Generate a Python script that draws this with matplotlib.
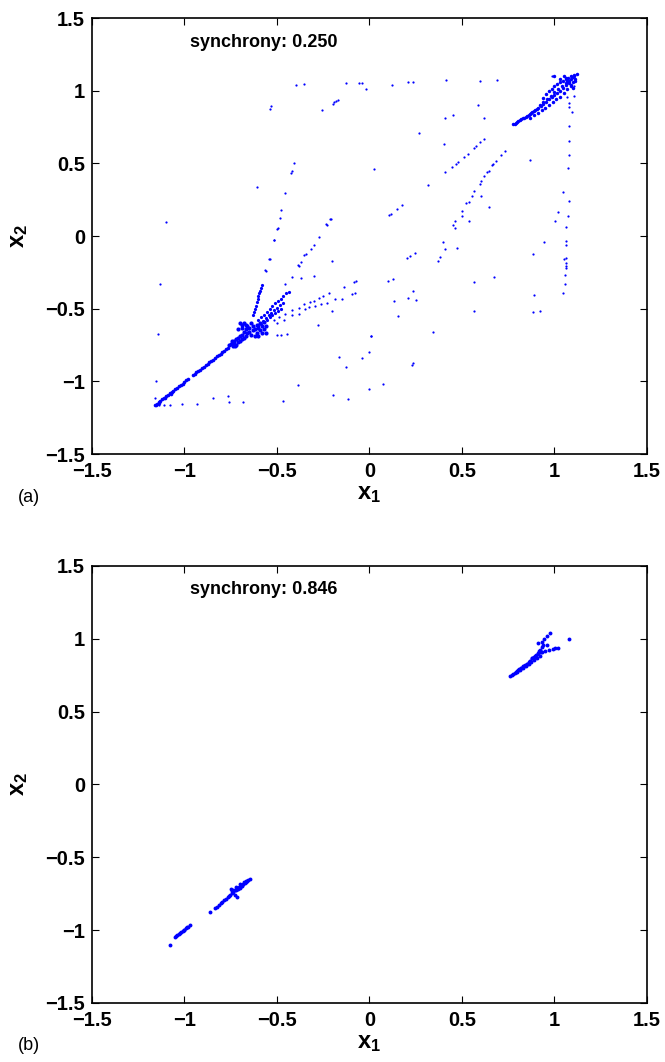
import matplotlib
matplotlib.use('Agg')
import matplotlib.pyplot as plt

plt.rcParams['font.family'] = ['Liberation Sans', 'DejaVu Sans']
plt.rcParams['mathtext.fontset'] = 'custom'
plt.rcParams['mathtext.rm'] = 'Liberation Sans:bold'
plt.rcParams['mathtext.bf'] = 'Liberation Sans:bold'
plt.rcParams['mathtext.it'] = 'Liberation Sans:bold'

# ---- panel (a) data ----
# dense line in the lower left
a_line_x = [-1.16, -1.15, -1.14, -1.13, -1.12, -1.11, -1.10, -1.09, -1.08, -1.07, -1.06, -1.05,
            -1.04, -1.03, -1.02, -1.01, -1.00, -0.99, -0.98, -0.955, -0.945, -0.935, -0.925,
            -0.915, -0.905, -0.895, -0.885, -0.875, -0.865, -0.855, -0.845, -0.835, -0.825,
            -0.815, -0.805, -0.795, -0.785, -0.775, -0.765, -1.155, -1.135, -1.105, -1.075]
a_line_y = [-1.165, -1.158, -1.147, -1.136, -1.124, -1.115, -1.104, -1.094, -1.083, -1.074, -1.063,
            -1.054, -1.044, -1.034, -1.023, -1.015, -1.004, -0.994, -0.985, -0.958, -0.949,
            -0.939, -0.930, -0.919, -0.909, -0.900, -0.889, -0.880, -0.869, -0.860, -0.850,
            -0.840, -0.829, -0.820, -0.810, -0.799, -0.790, -0.779, -0.770, -1.166, -1.145,
            -1.113, -1.085]

# knot around (-0.65, -0.65)
a_knot_x = [-0.76, -0.75, -0.74, -0.74, -0.73, -0.73, -0.72, -0.72, -0.71, -0.71, -0.70, -0.70,
            -0.69, -0.69, -0.68, -0.68, -0.67, -0.67, -0.66, -0.66, -0.65, -0.65, -0.64, -0.64,
            -0.63, -0.63, -0.62, -0.62, -0.61, -0.61, -0.60, -0.60, -0.59, -0.59, -0.58, -0.58,
            -0.57, -0.57, -0.56, -0.56, -0.68, -0.69, -0.70, -0.67, -0.71, -0.69, -0.745, -0.725]
a_knot_y = [-0.75, -0.74, -0.76, -0.73, -0.72, -0.74, -0.71, -0.75, -0.73, -0.70, -0.72, -0.69,
            -0.71, -0.68, -0.70, -0.66, -0.69, -0.64, -0.67, -0.62, -0.66, -0.63, -0.68, -0.60,
            -0.65, -0.62, -0.69, -0.64, -0.61, -0.67, -0.63, -0.69, -0.65, -0.60, -0.67, -0.62,
            -0.64, -0.59, -0.62, -0.67, -0.60, -0.61, -0.60, -0.61, -0.64, -0.63, -0.72, -0.76]

# rays leaving the knot
a_ray_x = [-0.63, -0.625, -0.62, -0.615, -0.61, -0.605, -0.60, -0.595, -0.59, -0.585, -0.58,
           -0.60, -0.585, -0.57, -0.555, -0.54, -0.525, -0.51, -0.495, -0.48, -0.465, -0.45, -0.435,
           -0.62, -0.605, -0.59, -0.575, -0.56, -0.545, -0.53, -0.515, -0.50, -0.485, -0.47,
           -0.60, -0.585, -0.57, -0.555, -0.54, -0.525, -0.51, -0.495, -0.48]
a_ray_y = [-0.545, -0.52, -0.50, -0.48, -0.455, -0.435, -0.415, -0.395, -0.375, -0.355, -0.34,
           -0.58, -0.56, -0.54, -0.52, -0.50, -0.48, -0.46, -0.445, -0.43, -0.41, -0.395, -0.385,
           -0.64, -0.62, -0.60, -0.585, -0.565, -0.545, -0.53, -0.51, -0.495, -0.475, -0.46,
           -0.62, -0.605, -0.59, -0.575, -0.56, -0.545, -0.53, -0.515, -0.50]

# dense streak in the upper right
a_tip_x = [0.775, 0.79, 0.805, 0.82, 0.835, 0.85, 0.865, 0.88, 0.895, 0.91, 0.925, 0.94, 0.955,
           0.97, 0.985, 1.0, 1.015, 1.03, 1.045, 1.06, 1.075, 1.09, 1.105, 1.12,
           0.87, 0.89, 0.91, 0.93, 0.95, 0.97, 0.99, 1.01, 1.03, 1.05, 1.07, 1.09, 1.11,
           0.94, 0.955, 0.97, 0.985, 1.0, 1.015, 1.03, 1.045, 1.06, 1.075, 1.09, 1.105,
           0.92, 0.94, 0.96, 0.98, 1.0, 1.02, 1.04, 1.06, 1.08, 1.1,
           1.0, 1.03, 1.06, 1.08, 1.09, 1.1, 1.11, 1.1, 1.07, 1.05,
           0.785, 0.80, 0.815, 0.83, 0.845, 0.86, 0.875, 0.89, 0.905]
a_tip_y = [0.768, 0.78, 0.792, 0.803, 0.815, 0.828, 0.842, 0.855, 0.868, 0.882, 0.895, 0.91, 0.925,
           0.94, 0.955, 0.97, 0.985, 1.0, 1.02, 1.04, 1.06, 1.08, 1.10, 1.116,
           0.815, 0.83, 0.85, 0.865, 0.88, 0.9, 0.92, 0.94, 0.96, 0.985, 1.01, 1.04, 1.07,
           0.95, 0.975, 0.995, 1.015, 1.03, 1.045, 1.06, 1.07, 1.08, 1.09, 1.1, 1.108,
           0.905, 0.925, 0.945, 0.965, 0.99, 1.01, 1.03, 1.05, 1.07, 1.095,
           1.1, 1.08, 1.09, 1.05, 1.03, 1.06, 1.08, 1.02, 1.065, 1.1,
           0.772, 0.786, 0.797, 0.81, 0.822, 0.835, 0.849, 0.861, 0.875]

# loose points
a_dot_x = [-0.399, -0.352, -0.127, -0.059, -0.041, -0.019, 0.123, 0.206, 0.233, 0.415, 0.597, 0.687,
           -0.255, -0.197, -0.19, -0.179, -0.17, -0.536, -0.531, -0.61, -1.102, -0.518,
           0.588, 0.406, 0.451, 0.619, 0.269, 0.401, 0.024, 0.318, 0.408,
           0.107, 0.114, 0.15, 0.174, 0.444, 0.468, 0.48, 0.511, 0.531, 0.565, 0.576, 0.597, 0.617,
           0.45, 0.462, 0.464, 0.498, 0.498, 0.523, 0.538, 0.552, 0.565, 0.597, 0.603, 0.621, 0.633,
           0.644, 0.662, 0.669, 0.682, 0.709, 0.731, 0.604, 0.648, 0.538, 0.867,
           1.08, 1.08, 1.077, 1.075, 1.077, 1.073, 1.062, 1.044, 1.021, 1.001, 1.094, 1.08, 1.077,
           1.104, 1.066, 1.105, 0.986,
           1.06, 1.06, 1.06, 1.05, 1.06, 1.06, 1.06, 1.057, 1.055, 1.044, 0.882, 0.945, 0.887,
           0.882, 0.922,
           0.399, 0.406, 0.475, 0.381, 0.372, 0.248, 0.219, 0.203, 0.1, 0.125, 0.233, 0.208, 0.251,
           0.132, 0.152, 0.008, 0.343, 0.233, 0.23, 0.071, 0.0, 0.565, 0.671, 0.565,
           -0.557, -0.545, -0.518, -0.495, -0.485, -0.477, -0.456, -0.424, -0.41, -0.419, -0.5,
           -0.54, -0.563,
           -0.454, -0.419, -0.385, -0.383, -0.37, -0.355, -0.341, -0.318, -0.302, -0.275, -0.236,
           -0.213, -0.21, -0.232,
           -0.518, -0.487, -0.455, -0.419, -0.383, -0.352, -0.32, -0.298, -0.275, -0.25, -0.221,
           -0.136, -0.086, -0.073,
           -0.5, -0.464, -0.419, -0.383, -0.347, -0.325, -0.293, -0.26, -0.23, -0.185, -0.149,
           -0.095, -0.077,
           -0.205, -0.368, -0.302, -1.132, -1.145, -1.156, -0.203, -0.28, -0.5, -0.477, -0.446,
           0.006, -0.167, -0.125, -0.041, -0.005, -0.388, -0.199, -0.116, -0.468, -0.767, -0.761,
           -0.686, -0.848, -0.932, -1.014, -1.078, -1.113, -1.14, -1.161]
a_dot_y = [1.042, 1.049, 1.054, 1.054, 1.054, 1.01, 1.042, 1.058, 1.061, 1.072, 1.07, 1.072,
           0.864, 0.91, 0.919, 0.932, 0.935, 0.875, 0.894, 0.34, 0.095, -0.03,
           0.905, 0.811, 0.832, 0.809, 0.708, 0.635, 0.459, 0.351, 0.443,
           0.145, 0.152, 0.189, 0.212, 0.475, 0.498, 0.511, 0.546, 0.566, 0.603, 0.617, 0.649, 0.669,
           0.077, 0.054, 0.102, 0.173, 0.141, 0.23, 0.237, 0.273, 0.312, 0.356, 0.379, 0.415, 0.44,
           0.45, 0.486, 0.493, 0.518, 0.557, 0.585, 0.276, 0.198, 0.1, 0.521,
           0.756, 0.653, 0.555, 0.47, 0.241, 0.138, 0.065, 0.303, 0.168, 0.1, 0.852, 0.887, 0.916,
           0.967, 0.96, 1.031, 1.104,
           -0.037, -0.06, -0.152, -0.161, -0.188, -0.209, -0.223, -0.268, -0.33, -0.394, -0.122,
           -0.042, -0.408, -0.525, -0.518,
           -0.042, -0.092, -0.085, -0.147, -0.172, -0.117, -0.14, -0.152, -0.31, -0.296, -0.378,
           -0.426, -0.44, -0.447, -0.552, -0.687, -0.662, -0.877, -0.886, -1.019, -1.053, -0.319,
           -0.284, -0.518,
           -0.243, -0.158, -0.025, 0.055, 0.124, 0.176, 0.295, 0.432, 0.501, 0.447, 0.049,
           -0.156, -0.236,
           -0.327, -0.281, -0.197, -0.209, -0.179, -0.128, -0.126, -0.088, -0.06, -0.007, 0.085,
           0.119, 0.12, 0.077,
           -0.58, -0.557, -0.534, -0.511, -0.495, -0.465, -0.454, -0.447, -0.424, -0.415, -0.392,
           -0.35, -0.316, -0.31,
           -0.596, -0.58, -0.545, -0.534, -0.5, -0.488, -0.481, -0.465, -0.458, -0.431, -0.431,
           -0.396, -0.39,
           -0.172, -0.289, -0.277, -0.33, -0.676, -0.996, -0.518, -0.609, -0.682, -0.678, -0.673,
           -0.687, -0.831, -0.9, -0.836, -0.8, -1.023, -1.097, -1.124, -1.133, -1.104, -1.145,
           -1.14, -1.117, -1.154, -1.158, -1.163, -1.161, -1.163, -1.117]

# ---- panel (b) data ----
b_low_x = [-1.08, -1.05, -1.04, -1.03, -1.02, -1.01, -1.0, -0.99, -0.98, -0.97,
           -1.045, -1.025, -1.005, -0.985,
           -0.86, -0.835, -0.825, -0.815, -0.805, -0.795, -0.785,
           -0.775, -0.765, -0.755, -0.745, -0.735, -0.725, -0.715, -0.705, -0.695, -0.685,
           -0.675, -0.665, -0.655, -0.648, -0.74, -0.72, -0.70, -0.68, -0.72, -0.70, -0.69,
           -0.749, -0.745, -0.727, -0.715, -0.76, -0.71, -0.69, -0.67, -0.66]
b_low_y = [-1.10, -1.045, -1.036, -1.026, -1.016, -1.006, -0.996, -0.986, -0.976, -0.966,
           -1.042, -1.02, -1.001, -0.982,
           -0.873, -0.85, -0.84, -0.828, -0.817, -0.806, -0.795,
           -0.784, -0.772, -0.76, -0.748, -0.737, -0.726, -0.715, -0.705, -0.694, -0.684,
           -0.675, -0.665, -0.657, -0.65, -0.725, -0.705, -0.685, -0.668, -0.728, -0.712, -0.70,
           -0.719, -0.731, -0.759, -0.774, -0.765, -0.72, -0.69, -0.67, -0.66]

b_high_x = [0.76, 0.775, 0.79, 0.805, 0.82, 0.835, 0.85, 0.865, 0.88, 0.895, 0.91, 0.92,
            0.77, 0.785, 0.80, 0.815, 0.83, 0.845, 0.86, 0.875, 0.89, 0.905, 0.92,
            0.80, 0.82, 0.84, 0.86, 0.88, 0.90, 0.915, 0.93,
            0.81, 0.83, 0.85, 0.87, 0.89, 0.91, 0.925,
            0.912, 0.93, 0.945, 0.96, 0.976,
            0.93, 0.95, 0.97, 0.99, 1.005, 1.021, 1.08, 0.94, 0.96]
b_high_y = [0.745, 0.758, 0.772, 0.785, 0.80, 0.815, 0.83, 0.848, 0.866, 0.885, 0.905, 0.92,
            0.75, 0.762, 0.775, 0.788, 0.80, 0.813, 0.826, 0.84, 0.855, 0.87, 0.885,
            0.78, 0.80, 0.82, 0.842, 0.865, 0.89, 0.915, 0.945,
            0.795, 0.812, 0.83, 0.85, 0.872, 0.893, 0.91,
            0.969, 0.98, 1.0, 1.02, 1.038,
            0.912, 0.918, 0.925, 0.93, 0.935, 0.94, 0.997, 0.96, 0.955]

ticks = [-1.5, -1, -0.5, 0, 0.5, 1, 1.5]
tick_labels = ['\u22121.5', '\u22121', '\u22120.5', '0', '0.5', '1', '1.5']

fig = plt.figure(figsize=(6.65, 10.62), dpi=100)
ax_a = fig.add_axes([0.1383, 0.5725, 0.8346, 0.4105])
ax_b = fig.add_axes([0.1383, 0.0556, 0.8346, 0.4115])


def style_axes(ax):
    ax.set_xlim(-1.5, 1.5)
    ax.set_ylim(-1.5, 1.5)
    ax.set_xticks(ticks)
    ax.set_yticks(ticks)
    ax.set_xticklabels(tick_labels, fontsize=14.5, fontweight='bold')
    ax.set_yticklabels(tick_labels, fontsize=14.5, fontweight='bold')
    ax.tick_params(direction='in', length=5, width=0.8, top=True, right=True)
    ax.tick_params(axis='x', pad=6)
    ax.tick_params(axis='y', pad=5)
    for s in ax.spines.values():
        s.set_linewidth(1.2)
    ax.set_xlabel(r'$\mathbf{x_1}$', fontsize=17)
    ax.set_ylabel(r'$\mathbf{x_2}$', fontsize=17)
    ax.xaxis.set_label_coords(0.5, -0.066)
    ax.yaxis.set_label_coords(-0.112, 0.5)


blue = (0, 0, 1)
ax_a.plot(a_line_x, a_line_y, 'o', color=blue, ms=2.6, mew=0)
ax_a.plot(a_knot_x, a_knot_y, 'o', color=blue, ms=3.0, mew=0)
ax_a.plot(a_ray_x, a_ray_y, 'o', color=blue, ms=2.3, mew=0)
ax_a.plot(a_tip_x, a_tip_y, 'o', color=blue, ms=2.5, mew=0)
ax_a.plot(a_dot_x, a_dot_y, 'o', color=blue, ms=1.6, mew=0)
style_axes(ax_a)
ax_a.text(-0.97, 1.335, 'synchrony: 0.250', fontsize=13, fontweight='bold', va='center')

ax_b.plot(b_low_x, b_low_y, 'o', color=blue, ms=2.8, mew=0)
ax_b.plot(b_high_x, b_high_y, 'o', color=blue, ms=2.8, mew=0)
style_axes(ax_b)
ax_b.text(-0.97, 1.335, 'synchrony: 0.846', fontsize=13, fontweight='bold', va='center')

fig.text(0.027, 1 - 497 / 1062, '(a)', fontsize=13, va='center')
fig.text(0.027, 1 - 1045 / 1062, '(b)', fontsize=13, va='center')

fig.savefig('out.png', dpi=100)
